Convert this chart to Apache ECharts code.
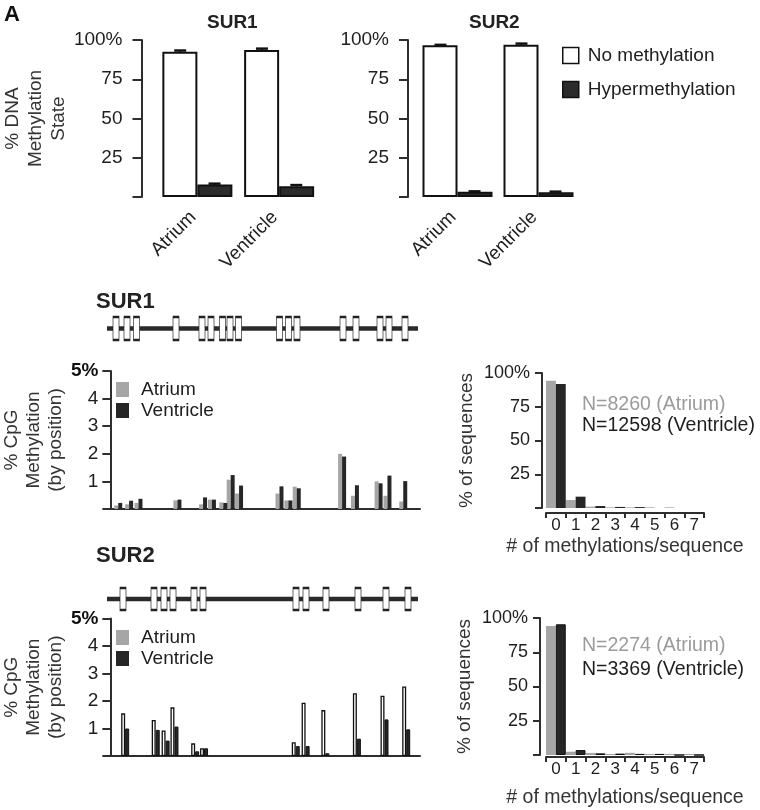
<!DOCTYPE html>
<html><head><meta charset="utf-8">
<script src="https://cdn.jsdelivr.net/npm/echarts@6/dist/echarts.min.js"></script>
<style>html,body{margin:0;padding:0;background:#fff}#c{width:760px;height:810px}</style>
</head><body><div id="c"></div>
<script>
// ---------- data ----------
const summaryGroups = ['Atrium', 'Ventricle'];
const sur1NoMeth = [92.5, 93.6];
const sur1NoMethErr = [0.8, 0.9];
const sur1Hyper = [8.0, 6.8];
const sur1HyperErr = [0.5, 0.8];
const sur2NoMeth = [96.6, 97.0];
const sur2NoMethErr = [0.3, 0.7];
const sur2Hyper = [3.3, 3.0];
const sur2HyperErr = [0.3, 0.4];

const sur1CpgPos = [8, 19, 28.5, 68, 94, 103, 114.5, 122, 130.5, 171.5, 180.5, 189, 235, 248, 272, 281, 297];
const sur1CpgAtrium = [0.13, 0.17, 0.22, 0.31, 0.17, 0.34, 0.24, 1.06, 0.56, 0.56, 0.31, 0.81, 2.0, 0.48, 1.0, 0.48, 0.27];
const sur1CpgVentricle = [0.22, 0.3, 0.37, 0.34, 0.42, 0.34, 0.22, 1.23, 0.85, 0.82, 0.31, 0.75, 1.9, 0.86, 0.93, 1.21, 1.01];
const sur2CpgPos = [15, 46, 56, 65, 86, 95, 188, 198, 218, 250, 278, 300];
const sur2CpgAtrium = [1.55, 1.31, 0.93, 1.77, 0.46, 0.28, 0.5, 1.94, 1.67, 2.28, 2.19, 2.53];
const sur2CpgVentricle = [1.0, 0.95, 0.56, 1.07, 0.17, 0.28, 0.36, 0.36, 0.1, 0.63, 1.33, 0.97];
const geneSpan = [-1, 310];
const seqLength = 314;

const methCounts = ['0', '1', '2', '3', '4', '5', '6', '7'];
const sur1HistAtrium = [94.3, 5.9, 1.0, 0.5, 0.5, 0.5, 0.5, 0];
const sur1HistVentricle = [91.9, 8.4, 1.5, 0.8, 0.7, 0, 0, 0];
const sur2HistAtrium = [94.2, 2.4, 1.5, 0.8, 1.6, 0.8, 0.8, 0.8];
const sur2HistVentricle = [95.4, 3.6, 1.2, 1.0, 0.8, 0.8, 0, 0];
const sur1N = { atrium: 8260, ventricle: 12598 };
const sur2N = { atrium: 2274, ventricle: 3369 };

// ---------- styling ----------
const FONT = '"Liberation Sans", Arial, Helvetica, sans-serif';
const FS = 19;
const TXT = '#1e1e1e';
const AX = '#2e2e2e';
const GRAY = '#a6a6a6';
const DARK = '#262626';

const chart = echarts.init(document.getElementById('c'), null, { renderer: 'canvas' });

function summaryY(gridIndex, offset, withName) {
  return {
    gridIndex, type: 'value', min: 0, max: 100, interval: 25, offset,
    axisLine: { show: true, lineStyle: { color: AX, width: 2 } },
    axisTick: { show: true, length: 9, lineStyle: { color: AX, width: 2 } },
    axisLabel: { margin: 19, fontSize: FS, color: TXT, fontFamily: FONT,
      formatter: v => v === 100 ? '100%' : (v === 0 ? '' : String(v)) },
    splitLine: { show: false },
    name: withName ? '% DNA\nMethylation\nState' : '',
    nameLocation: 'middle', nameGap: 64,
    nameTextStyle: { fontSize: FS, color: '#333', fontFamily: FONT, lineHeight: 23 }
  };
}
function summaryX(gridIndex) {
  return {
    gridIndex, type: 'category', data: summaryGroups,
    axisLine: { show: false }, axisTick: { show: false },
    axisLabel: { rotate: 45, margin: 13, padding: [0, 6, 0, 0], fontSize: FS, color: TXT, fontFamily: FONT }
  };
}
function errSeries(name, xi, yi, means, errs, side) {
  return {
    type: 'custom', name, xAxisIndex: xi, yAxisIndex: yi, z: 5, silent: true,
    data: means.map((m, i) => [i, m, errs[i]]),
    renderItem: (params, api) => {
      const bw = api.size([1, 0])[0];
      const half = bw * 0.42 / 2;
      const c = api.coord([api.value(0), api.value(1)]);
      const t = api.coord([api.value(0), api.value(1) + api.value(2)]);
      const x = c[0] + side * half;
      return { type: 'group', children: [
        { type: 'line', shape: { x1: x, y1: c[1], x2: x, y2: t[1] }, style: { stroke: '#111', lineWidth: 2 } },
        { type: 'line', shape: { x1: x - 6, y1: t[1], x2: x + 6, y2: t[1] }, style: { stroke: '#111', lineWidth: 2.5 } }
      ]};
    }
  };
}
function cpgY(gridIndex) {
  return {
    gridIndex, type: 'value', min: 0, max: 5, interval: 1,
    axisLine: { show: true, lineStyle: { color: AX, width: 2 } },
    axisTick: { show: true, length: 8, lineStyle: { color: AX, width: 2 } },
    axisLabel: { margin: 12, fontSize: FS, color: TXT, fontFamily: FONT,
      formatter: v => v === 5 ? '{b|5%}' : (v === 0 ? '' : String(v)),
      rich: { b: { fontWeight: 'bold', fontSize: FS, color: '#111', fontFamily: FONT } } },
    splitLine: { show: false },
    name: '% CpG\nMethylation\n(by position)', nameLocation: 'middle', nameGap: 40,
    nameTextStyle: { fontSize: FS, color: '#333', fontFamily: FONT, lineHeight: 22 }
  };
}
function cpgX(gridIndex) {
  return {
    gridIndex, type: 'value', min: 0, max: seqLength,
    axisLine: { show: true, onZero: false, lineStyle: { color: AX, width: 2 } },
    axisTick: { show: false }, axisLabel: { show: false }, splitLine: { show: false }
  };
}
function geneX(gridIndex) {
  return { gridIndex, type: 'value', min: 0, max: seqLength, show: false, splitLine: { show: false } };
}
function geneY(gridIndex) {
  return { gridIndex, type: 'value', min: 0, max: 1, show: false, splitLine: { show: false } };
}
function histY(gridIndex, offset) {
  return {
    gridIndex, type: 'value', min: 0, max: 100, interval: 25, offset,
    axisLine: { show: true, lineStyle: { color: AX, width: 2 } },
    axisTick: { show: true, length: 7, lineStyle: { color: AX, width: 2 } },
    axisLabel: { margin: 12, fontSize: 18, color: TXT, fontFamily: FONT,
      formatter: v => v === 100 ? '100%' : (v === 0 ? '' : String(v)) },
    splitLine: { show: false },
    name: '% of sequences', nameLocation: 'middle', nameGap: 66,
    nameTextStyle: { fontSize: FS, color: '#333', fontFamily: FONT }
  };
}
function histX(gridIndex, offset, nameGap) {
  return {
    gridIndex, type: 'category', data: methCounts, offset,
    axisLine: { show: true, onZero: false, lineStyle: { color: AX, width: 2 } },
    axisTick: { show: true, length: 5, interval: 0, lineStyle: { color: AX, width: 2 } },
    axisLabel: { margin: 4, fontSize: 17, color: TXT, fontFamily: FONT, interval: 0 },
    name: '# of methylations/sequence', nameLocation: 'middle', nameGap,
    nameTextStyle: { fontSize: 19.5, color: '#333', fontFamily: FONT }
  };
}

const whiteBar = { color: '#ffffff', borderColor: '#111', borderWidth: 2 };
const darkBar = { color: '#2b2b2b', borderColor: '#111', borderWidth: 2 };
const legendText = { fontSize: FS, color: TXT, fontFamily: FONT, lineHeight: 19 };

const option = {
  animation: false,
  backgroundColor: '#fff',
  textStyle: { fontFamily: FONT },
  title: [
    { text: 'A', left: 4, top: 4, padding: 0, textStyle: { fontSize: 22, fontWeight: 'bold', color: '#111', fontFamily: FONT } },
    { text: 'SUR1', left: 207, top: 13, padding: 0, textStyle: { fontSize: 19, fontWeight: 'bold', color: '#222', fontFamily: FONT } },
    { text: 'SUR2', left: 469, top: 13, padding: 0, textStyle: { fontSize: 19, fontWeight: 'bold', color: '#222', fontFamily: FONT } },
    { text: 'SUR1', left: 96, top: 291, padding: 0, textStyle: { fontSize: 22, fontWeight: 'bold', color: '#222', fontFamily: FONT } },
    { text: 'SUR2', left: 96, top: 545, padding: 0, textStyle: { fontSize: 22, fontWeight: 'bold', color: '#222', fontFamily: FONT } }
  ],
  legend: [
    { orient: 'vertical', left: 562, top: 46, padding: 0, itemWidth: 16, itemHeight: 16, itemGap: 15, selectedMode: false,
      icon: 'rect', textStyle: Object.assign({ padding: [0, 0, 0, 4] }, legendText),
      data: [
        { name: 'No methylation', itemStyle: { color: '#fff', borderColor: '#111', borderWidth: 1.5 } },
        { name: 'Hypermethylation', itemStyle: { color: '#2b2b2b', borderColor: '#111', borderWidth: 1.5 } }
      ] },
    { orient: 'vertical', left: 116, top: 380, padding: 0, itemWidth: 13, itemHeight: 15, itemGap: 2, selectedMode: false,
      icon: 'rect', textStyle: Object.assign({ padding: [0, 0, 0, 7] }, legendText),
      data: [
        { name: 'Atrium', itemStyle: { color: GRAY, borderWidth: 0 } },
        { name: 'Ventricle', itemStyle: { color: DARK, borderWidth: 0 } }
      ] },
    { orient: 'vertical', left: 116, top: 628, padding: 0, itemWidth: 13, itemHeight: 15, itemGap: 2, selectedMode: false,
      icon: 'rect', textStyle: Object.assign({ padding: [0, 0, 0, 7] }, legendText),
      data: [
        { name: 'Atrium', itemStyle: { color: GRAY, borderWidth: 0 } },
        { name: 'Ventricle', itemStyle: { color: DARK, borderWidth: 0 } }
      ] }
  ],
  grid: [
    { left: 150, top: 40, width: 170, height: 157 },   // 0 SUR1 summary
    { left: 417, top: 40, width: 162, height: 157 },   // 1 SUR2 summary
    { left: 108, top: 317, width: 314, height: 23 },   // 2 SUR1 gene
    { left: 106, top: 371, width: 314, height: 138 },  // 3 SUR1 CpG
    { left: 546, top: 373, width: 158, height: 135 },  // 4 SUR1 hist
    { left: 108, top: 588, width: 314, height: 22 },   // 5 SUR2 gene
    { left: 106, top: 618.5, width: 314, height: 137.5 }, // 6 SUR2 CpG
    { left: 546, top: 618, width: 158, height: 137 }   // 7 SUR2 hist
  ],
  xAxis: [summaryX(0), summaryX(1), geneX(2), cpgX(3), histX(4, 5, 24), geneX(5), cpgX(6), histX(7, 2, 31)],
  yAxis: [summaryY(0, 15, true), summaryY(1, 9, false), geneY(2), cpgY(3), histY(4, 4), geneY(5), cpgY(6), histY(7, 6)],
  graphic: [
    { type: 'text', x: 582, y: 405, style: { text: `N=${sur1N.atrium} (Atrium)`, fill: '#9b9b9b', fontSize: 19.5, fontFamily: FONT, verticalAlign: 'middle' } },
    { type: 'text', x: 582, y: 426, style: { text: `N=${sur1N.ventricle} (Ventricle)`, fill: '#1e1e1e', fontSize: 19.5, fontFamily: FONT, verticalAlign: 'middle' } },
    { type: 'text', x: 582, y: 646, style: { text: `N=${sur2N.atrium} (Atrium)`, fill: '#9b9b9b', fontSize: 19.5, fontFamily: FONT, verticalAlign: 'middle' } },
    { type: 'text', x: 582, y: 670, style: { text: `N=${sur2N.ventricle} (Ventricle)`, fill: '#1e1e1e', fontSize: 19.5, fontFamily: FONT, verticalAlign: 'middle' } }
  ],
  series: [
    // top summaries
    { type: 'bar', name: 'No methylation', xAxisIndex: 0, yAxisIndex: 0, data: sur1NoMeth, barWidth: 35, barGap: '0%', itemStyle: whiteBar },
    { type: 'bar', name: 'Hypermethylation', xAxisIndex: 0, yAxisIndex: 0, data: sur1Hyper, barWidth: 35, barGap: '0%', itemStyle: darkBar },
    errSeries('err1a', 0, 0, sur1NoMeth, sur1NoMethErr, -1),
    errSeries('err1b', 0, 0, sur1Hyper, sur1HyperErr, 1),
    { type: 'bar', name: 'No methylation', xAxisIndex: 1, yAxisIndex: 1, data: sur2NoMeth, barWidth: 35, barGap: '0%', itemStyle: whiteBar },
    { type: 'bar', name: 'Hypermethylation', xAxisIndex: 1, yAxisIndex: 1, data: sur2Hyper, barWidth: 35, barGap: '0%', itemStyle: darkBar },
    errSeries('err2a', 1, 1, sur2NoMeth, sur2NoMethErr, -1),
    errSeries('err2b', 1, 1, sur2Hyper, sur2HyperErr, 1),
    // SUR1 gene diagram
    { type: 'line', name: 'gene1', xAxisIndex: 2, yAxisIndex: 2, data: geneSpan.map(x => [x, 0.5]), symbol: 'none', silent: true,
      lineStyle: { color: '#2a2a2a', width: 4.5 }, z: 2 },
    { type: 'scatter', name: 'exon1', xAxisIndex: 2, yAxisIndex: 2, data: sur1CpgPos.map(x => [x, 0.5]), symbol: 'rect', symbolSize: [6, 23], silent: true,
      itemStyle: { color: '#fff', borderColor: '#222', borderWidth: 1.3, opacity: 1 }, z: 3 },
    // SUR1 CpG
    { type: 'bar', name: 'Atrium', xAxisIndex: 3, yAxisIndex: 3, data: sur1CpgPos.map((p, i) => [p, sur1CpgAtrium[i]]), barWidth: 4, barGap: '0%', itemStyle: { color: GRAY } },
    { type: 'bar', name: 'Ventricle', xAxisIndex: 3, yAxisIndex: 3, data: sur1CpgPos.map((p, i) => [p, sur1CpgVentricle[i]]), barWidth: 4, barGap: '0%', itemStyle: { color: DARK } },
    // SUR1 hist
    { type: 'bar', name: 'Atrium seq', xAxisIndex: 4, yAxisIndex: 4, data: sur1HistAtrium, barGap: '0%', barCategoryGap: '0%', itemStyle: { color: GRAY } },
    { type: 'bar', name: 'Ventricle seq', xAxisIndex: 4, yAxisIndex: 4, data: sur1HistVentricle, barGap: '0%', barCategoryGap: '0%', itemStyle: { color: DARK } },
    // SUR2 gene diagram
    { type: 'line', name: 'gene2', xAxisIndex: 5, yAxisIndex: 5, data: geneSpan.map(x => [x, 0.5]), symbol: 'none', silent: true,
      lineStyle: { color: '#2a2a2a', width: 4.5 }, z: 2 },
    { type: 'scatter', name: 'exon2', xAxisIndex: 5, yAxisIndex: 5, data: sur2CpgPos.map(x => [x, 0.5]), symbol: 'rect', symbolSize: [6, 22], silent: true,
      itemStyle: { color: '#fff', borderColor: '#222', borderWidth: 1.3, opacity: 1 }, z: 3 },
    // SUR2 CpG
    { type: 'bar', name: 'Atrium', xAxisIndex: 6, yAxisIndex: 6, data: sur2CpgPos.map((p, i) => [p, sur2CpgAtrium[i]]), barWidth: 4, barGap: '0%', itemStyle: { color: '#fff', borderColor: '#111', borderWidth: 1.3 } },
    { type: 'bar', name: 'Ventricle', xAxisIndex: 6, yAxisIndex: 6, data: sur2CpgPos.map((p, i) => [p, sur2CpgVentricle[i]]), barWidth: 4, barGap: '0%', itemStyle: { color: DARK, borderColor: '#111', borderWidth: 1 } },
    // SUR2 hist
    { type: 'bar', name: 'Atrium seq', xAxisIndex: 7, yAxisIndex: 7, data: sur2HistAtrium, barGap: '0%', barCategoryGap: '0%', itemStyle: { color: GRAY } },
    { type: 'bar', name: 'Ventricle seq', xAxisIndex: 7, yAxisIndex: 7, data: sur2HistVentricle, barGap: '0%', barCategoryGap: '0%', itemStyle: { color: DARK, borderColor: '#111', borderWidth: 1 } }
  ]
};
chart.setOption(option);
</script>
</body></html>
